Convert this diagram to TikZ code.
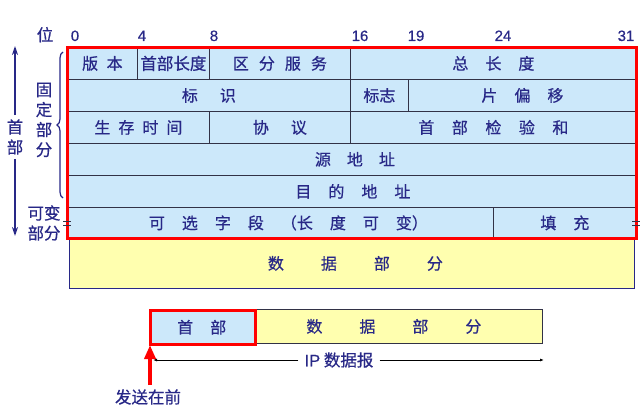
\documentclass[tikz,border=0pt]{standalone}
\usepackage{fontspec}
\setmainfont{Liberation Sans}
\newfontfamily\cjk[FakeBold=0.6]{Noto Sans CJK SC}
\newfontfamily\numfont[FakeBold=0.5]{Liberation Sans}
\usetikzlibrary{arrows.meta,decorations.pathreplacing}
\definecolor{navy}{RGB}{40,40,135}
\definecolor{hdrblue}{RGB}{204,232,250}
\definecolor{datayel}{RGB}{255,255,175}
\definecolor{gridc}{RGB}{50,50,70}
\newcommand\gp[1]{\hspace{#1pt}}
\tikzset{
  cell/.style={draw=gridc, line width=0.8pt, fill=hdrblue, anchor=north west, inner sep=0pt,
    text=navy, font=\cjk\fontsize{16}{18}\selectfont},
  lbl/.style={text=navy, inner sep=0pt, font=\cjk\fontsize{16.5}{20}\selectfont, align=center},
  bitnum/.style={text=navy, inner sep=0pt, font=\numfont\fontsize{15}{17}\selectfont, anchor=base},
  tick/.style={draw=gridc, line width=0.8pt}
}
\begin{document}
\begin{tikzpicture}[x=1pt,y=-1pt]
\useasboundingbox (0,0) rectangle (641,415);

% bit numbers
\node[lbl, anchor=base] (wei) at (45,41) {位};
\node[bitnum] (b0) at (75,41) {0};
\node[bitnum] (b4) at (142,41) {4};
\node[bitnum] (b8) at (214,41) {8};
\node[bitnum] (b16) at (360,41) {16};
\node[bitnum] (b19) at (416,41) {19};
\node[bitnum] (b24) at (503,41) {24};
\node[bitnum] (b31) at (626,41) {31};

% data part
\node[cell, fill=datayel, draw=navy, minimum width=565pt, minimum height=50pt] (data) at (69,238) {\hspace{7pt}数\gp{37}据\gp{37}部\gp{37}分};

% row 1
\node[cell, minimum width=70pt, minimum height=32pt] (ver) at (67,47) {版\gp{8.5}本};
\node[cell, minimum width=72pt, minimum height=32pt, font=\cjk\fontsize{16.5}{18}\selectfont] (hl) at (137,47) {首部长度};
\node[cell, minimum width=141pt, minimum height=32pt] (ds) at (209,47) {区\gp{10}分\gp{10}服\gp{10}务};
\node[cell, minimum width=286pt, minimum height=32pt] (tl) at (350,47) {总\gp{17}长\gp{17}度};
% row 2
\node[cell, minimum width=283pt, minimum height=32pt] (id) at (67,79) {标\gp{22}识};
\node[cell, minimum width=58pt, minimum height=32pt] (fl) at (350,79) {标志};
\node[cell, minimum width=228pt, minimum height=32pt] (fo) at (408,79) {片\gp{17}偏\gp{17}移};
% row 3
\node[cell, minimum width=142pt, minimum height=32pt] (ttl) at (67,111) {生\gp{8}存\gp{8}时\gp{8}间};
\node[cell, minimum width=141pt, minimum height=32pt] (pr) at (209,111) {协\gp{22}议};
\node[cell, minimum width=286pt, minimum height=32pt] (cs) at (350,111) {首\gp{17.5}部\gp{17.5}检\gp{17.5}验\gp{17.5}和};
% row 4, 5
\node[cell, minimum width=569pt, minimum height=32pt] (src) at (67,143) {\hspace{6pt}源\gp{16}地\gp{16}址};
\node[cell, minimum width=569pt, minimum height=32pt] (dst) at (67,175) {\hspace{2pt}目\gp{17}的\gp{17}地\gp{17}址};
% row 6
\node[cell, minimum width=426pt, minimum height=31pt] (opt) at (67,207) {\hspace{16pt}可\gp{17}选\gp{17}字\gp{17}段\gp{17}（长\gp{17}度\gp{17}可\gp{17}变）};
\node[cell, minimum width=143pt, minimum height=31pt] (pad) at (493,207) {填\gp{17}充};

% red header frame
\draw[red, line width=3pt] (ver.north west) rectangle (pad.south east);

% tick marks on optional row
\draw[tick] (63,221) -- (71,221) (63,225) -- (71,225);
\draw[tick] (632,221) -- (640,221) (632,225) -- (640,225);

% left labels
\draw[navy, line width=1.2pt, decorate, decoration={brace, amplitude=6pt}] (63,198) -- (63,52);
\node[lbl] (fixed) at (44,120) {固\\定\\部\\分};
\node[lbl] (var) at (44,223) {可变\\部分};
\node[lbl, inner sep=4pt] (shoubu) at (15,137) {首\\部};
\coordinate (atop) at (15,46);
\coordinate (abot) at (15,236);
\draw[navy, line width=2pt, -{Stealth[length=9pt,width=6pt]}] (shoubu.north) -- (atop);
\draw[navy, line width=2pt, -{Stealth[length=9pt,width=6pt]}] (shoubu.south) -- (abot);

% bottom datagram
\node[cell, fill=datayel, draw=gridc, minimum width=288pt, minimum height=34pt] (bdata) at (254,309) {\hspace{-9pt}数\gp{37}据\gp{37}部\gp{37}分};
\node[cell, draw=red, line width=2.5pt, minimum width=105pt, minimum height=34pt] (bhdr) at (149,309) {\hspace{-2pt}首\gp{17}部};

\node[lbl, fill=white, inner xsep=6pt] (ip) at (339,360) {{\numfont IP} 数据报};
\coordinate (ipL) at (153,360);
\coordinate (ipR) at (544,360);
\draw[black, line width=0.8pt, -{Latex[length=4pt,width=3pt]}] (ip.west) -- (ipL);
\draw[black, line width=0.8pt, -{Latex[length=4pt,width=3pt]}] (ip.east) -- (ipR);

\node[lbl, inner sep=1pt] (send) at (148,397) {发送在前};
\coordinate (sendtip) at (150,345);
\draw[red, line width=3.5pt, -{Triangle[length=14pt,width=11pt]}] (150,385) -- (sendtip);
\end{tikzpicture}
\end{document}
